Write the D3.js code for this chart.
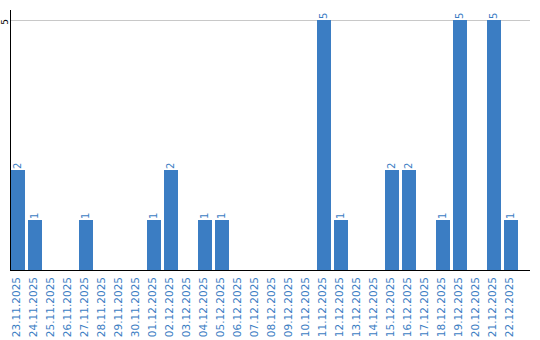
<!DOCTYPE html>
<html>
<head>
<meta charset="utf-8">
<script src="https://cdn.jsdelivr.net/npm/d3@7"></script>
<style>
  body { margin: 0; background: #fff; }
  text { font-family: "DejaVu Sans", Verdana, sans-serif; }
</style>
</head>
<body>
<svg width="540" height="340"></svg>
<script>
var dates = ["23.11.2025","24.11.2025","25.11.2025","26.11.2025","27.11.2025","28.11.2025",
  "29.11.2025","30.11.2025","01.12.2025","02.12.2025","03.12.2025","04.12.2025","05.12.2025",
  "06.12.2025","07.12.2025","08.12.2025","09.12.2025","10.12.2025","11.12.2025","12.12.2025",
  "13.12.2025","14.12.2025","15.12.2025","16.12.2025","17.12.2025","18.12.2025","19.12.2025",
  "20.12.2025","21.12.2025","22.12.2025"]
var counts = [2,1,0,0,1,0,0,0,1,2,0,1,1,0,0,0,0,0,5,1,0,0,2,2,0,1,5,0,5,1]
var yTicks = [5]

var color = "#3b7dc3"
var svg = d3.select("svg")

var x = d3.scaleBand().domain(dates).range([11, 518]).paddingInner(3 / 17).paddingOuter(0)
var y = d3.scaleLinear().domain([0, 5]).range([270, 20])

// grid line
svg.selectAll(".grid")
  .data(yTicks)
  .enter()
  .append("line")
  .attr("x1", 11).attr("x2", 530)
  .attr("y1", d => y(d) + 0.5).attr("y2", d => y(d) + 0.5)
  .attr("stroke", "#c8c8c8")

// bars
svg.selectAll("rect")
  .data(counts)
  .enter()
  .append("rect")
  .attr("x", (d, i) => x(dates[i]))
  .attr("y", d => y(d))
  .attr("width", x.bandwidth())
  .attr("height", d => y(0) - y(d))
  .attr("fill", color)

// value labels
svg.selectAll(".val")
  .data(counts.map((d, i) => ({v: d, k: dates[i]})).filter(d => d.v > 0))
  .enter()
  .append("text")
  .attr("transform", d => "translate(" + (x(d.k) + x.bandwidth() / 2 + 2.5) + "," + (y(d.v) - 1) + ") rotate(-90)")
  .attr("font-size", 10)
  .attr("fill", color)
  .text(d => d.v)

// y axis
svg.append("line")
  .attr("x1", 10.5).attr("x2", 10.5).attr("y1", 10).attr("y2", 270)
  .attr("stroke", "#000")

svg.selectAll(".ytick")
  .data(yTicks)
  .enter()
  .append("text")
  .attr("transform", d => "translate(8," + (y(d) + 2) + ") rotate(-90)")
  .attr("text-anchor", "middle")
  .attr("font-size", 9)
  .attr("fill", "#000")
  .text(d => d)

// x axis
svg.append("line")
  .attr("x1", 10).attr("x2", 530).attr("y1", 270.5).attr("y2", 270.5)
  .attr("stroke", "#000")

svg.selectAll(".xlab")
  .data(dates)
  .enter()
  .append("text")
  .attr("transform", d => "translate(" + (x(d) + x.bandwidth() / 2 + 2) + ",277) rotate(-90)")
  .attr("text-anchor", "end")
  .attr("font-size", 10.5)
  .attr("fill", color)
  .text(d => d)
</script>
</body>
</html>
